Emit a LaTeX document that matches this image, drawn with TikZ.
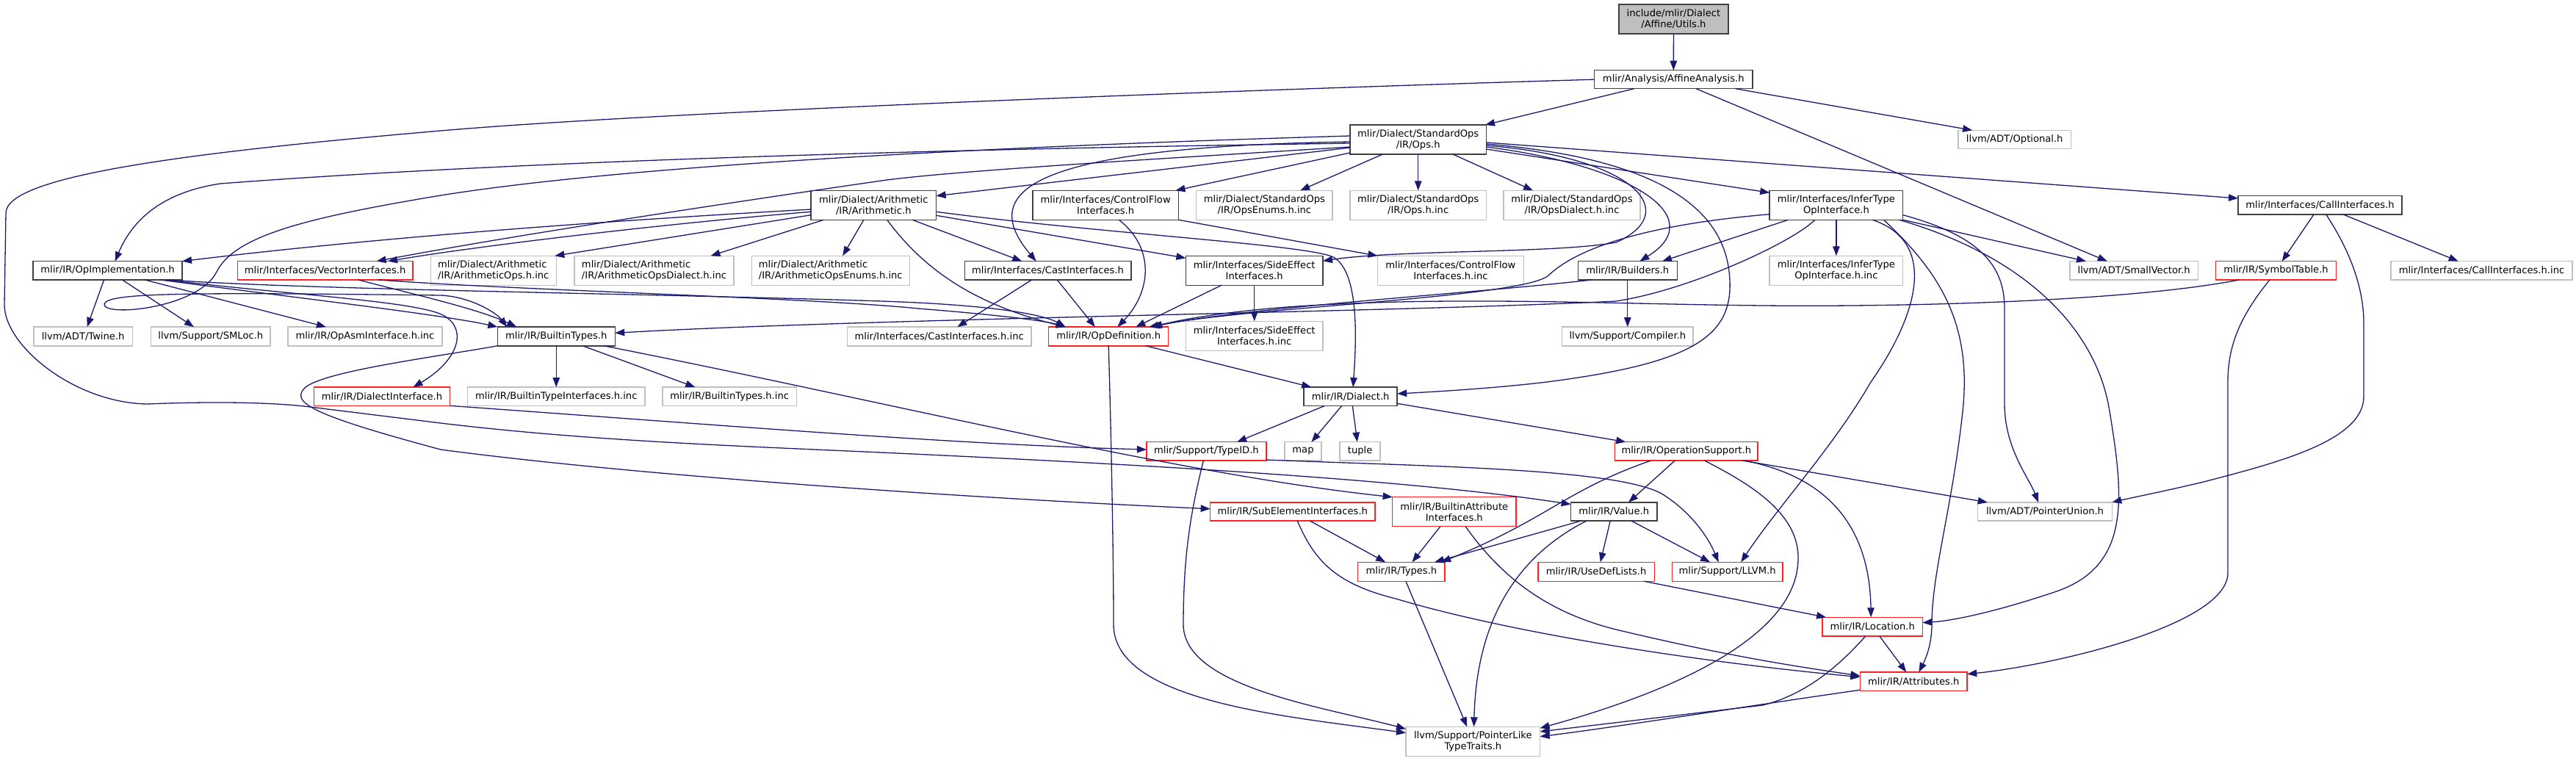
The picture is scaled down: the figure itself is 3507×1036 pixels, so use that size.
\documentclass[tikz,border=0pt]{standalone}
\usepackage{fontspec}
\setmainfont{DejaVu Sans}
\usetikzlibrary{arrows.meta}
\definecolor{edgeblue}{HTML}{191970}
\definecolor{nodered}{HTML}{FF2020}
\definecolor{nodegray}{HTML}{BFBFBF}
\definecolor{nodeblack}{HTML}{404040}
\newcommand{\nodefont}{\fontsize{13.1pt}{15pt}\selectfont}
\begin{document}
\begin{tikzpicture}[x=1pt,y=-1pt,
  nbox/.style={draw, line width=1.5pt, inner sep=0pt, outer sep=0pt, align=center, font=\nodefont, text=black},
  blk/.style={nbox, draw=nodeblack},
  trn/.style={nbox, draw=nodered},
  ext/.style={nbox, draw=nodegray},
  rootbox/.style={nbox, draw=nodeblack, fill=nodegray},
  sg/.style={minimum height=25.3pt},
  db/.style={minimum height=40pt},
  dep/.style={draw=edgeblue, line width=1.3pt, -{Triangle[length=13pt,width=9.5pt]}}
]
\useasboundingbox (0,0) rectangle (3507,1036);

% ---------- nodes ----------
\node[rootbox, minimum width=149.3pt, minimum height=40.3pt] (root) at (2278.4,25.9) {include/mlir/Dialect\\/Affine/Utils.h};
\node[blk, minimum width=215.8pt, minimum height=25pt] (ana) at (2278.3,108.2) {mlir/Analysis/AffineAnalysis.h};
\node[blk, db, minimum width=185.6pt] (ops) at (1930.7,190) {mlir/Dialect/StandardOps\\/IR/Ops.h};
\node[ext, minimum width=153.4pt, minimum height=25pt] (optional) at (2742.7,189.8) {llvm/ADT/Optional.h};

\node[blk, db, minimum width=170.6pt] (arith) at (1189.3,279.3) {mlir/Dialect/Arithmetic\\/IR/Arithmetic.h};
\node[blk, db, minimum width=198.6pt] (cfi) at (1505.2,279.3) {mlir/Interfaces/ControlFlow\\Interfaces.h};
\node[ext, db, minimum width=185.6pt] (opsenum) at (1721.4,279.3) {mlir/Dialect/StandardOps\\/IR/OpsEnums.h.inc};
\node[ext, db, minimum width=185.6pt] (opsinc) at (1930.7,279.3) {mlir/Dialect/StandardOps\\/IR/Ops.h.inc};
\node[ext, db, minimum width=185.6pt] (opsdia) at (2140,279.3) {mlir/Dialect/StandardOps\\/IR/OpsDialect.h.inc};
\node[blk, db, minimum width=181.4pt] (infer) at (2499.9,279.3) {mlir/Interfaces/InferType\\OpInterface.h};
\node[blk, sg, minimum width=223pt] (call) at (3158.5,279.3) {mlir/Interfaces/CallInterfaces.h};

\node[blk, sg, minimum width=202.8pt] (opimpl) at (146.6,368.3) {mlir/IR/OpImplementation.h};
\node[trn, sg, minimum width=238.4pt] (vector) at (442.6,368.3) {mlir/Interfaces/VectorInterfaces.h};
\node[ext, db, minimum width=171.1pt, align=left] (arops) at (671.8,368.3) {mlir/Dialect/Arithmetic\\/IR/ArithmeticOps.h.inc};
\node[ext, db, minimum width=217.3pt, align=left] (ardia) at (890.5,368.3) {mlir/Dialect/Arithmetic\\/IR/ArithmeticOpsDialect.h.inc};
\node[ext, db, minimum width=215.1pt, align=left] (arenum) at (1130.8,368.3) {mlir/Dialect/Arithmetic\\/IR/ArithmeticOpsEnums.h.inc};
\node[blk, sg, minimum width=226.5pt] (cast) at (1426.6,368.3) {mlir/Interfaces/CastInterfaces.h};
\node[blk, db, minimum width=186.6pt] (side) at (1707.7,368.3) {mlir/Interfaces/SideEffect\\Interfaces.h};
\node[ext, db, minimum width=199pt] (cfinc) at (1974.9,368.3) {mlir/Interfaces/ControlFlow\\Interfaces.h.inc};
\node[blk, sg, minimum width=135.1pt] (builders) at (2215.8,368.3) {mlir/IR/Builders.h};
\node[ext, db, minimum width=181.4pt] (inferinc) at (2499.9,368.3) {mlir/Interfaces/InferType\\OpInterface.h.inc};
\node[ext, sg, minimum width=174.5pt] (smallvec) at (2905.2,368.3) {llvm/ADT/SmallVector.h};
\node[trn, sg, minimum width=164.4pt] (symtab) at (3098.5,368.3) {mlir/IR/SymbolTable.h};
\node[ext, sg, minimum width=247pt] (callinc) at (3378.5,368.3) {mlir/Interfaces/CallInterfaces.h.inc};

\node[ext, minimum height=25.7pt, minimum width=134.3pt] (twine) at (113.1,457.9) {llvm/ADT/Twine.h};
\node[ext, minimum height=25.7pt, minimum width=162.6pt] (smloc) at (286.8,457.9) {llvm/Support/SMLoc.h};
\node[ext, minimum height=25.7pt, minimum width=209.6pt] (opasm) at (497,457.9) {mlir/IR/OpAsmInterface.h.inc};
\node[blk, minimum height=25.7pt, minimum width=160pt] (btypes) at (757.3,457.9) {mlir/IR/BuiltinTypes.h};
\node[ext, minimum height=25.7pt, minimum width=250.7pt] (castinc) at (1278.7,457.9) {mlir/Interfaces/CastInterfaces.h.inc};
\node[trn, minimum height=25.7pt, minimum width=163pt] (opdef) at (1509.2,457.9) {mlir/IR/OpDefinition.h};
\node[ext, db, minimum width=186.6pt] (sideinc) at (1707.7,457.3) {mlir/Interfaces/SideEffect\\Interfaces.h.inc};
\node[ext, minimum height=25.7pt, minimum width=178.7pt] (compiler) at (2215.8,457.9) {llvm/Support/Compiler.h};

\node[trn, sg, minimum width=185.2pt] (dialint) at (520,539.7) {mlir/IR/DialectInterface.h};
\node[ext, sg, minimum width=241.8pt] (btiinc) at (757.3,539.7) {mlir/IR/BuiltinTypeInterfaces.h.inc};
\node[ext, sg, minimum width=182.6pt] (btinc) at (993.2,539.7) {mlir/IR/BuiltinTypes.h.inc};
\node[blk, sg, minimum width=127pt] (dialect) at (1838.7,539.7) {mlir/IR/Dialect.h};

\node[trn, sg, minimum width=163pt] (typeid) at (1642.4,614.3) {mlir/Support/TypeID.h};
\node[ext, sg, minimum width=49.8pt] (map) at (1774,614.3) {map};
\node[ext, sg, minimum width=55.1pt] (tuple) at (1851.6,614.3) {tuple};
\node[trn, sg, minimum width=194.4pt] (opsup) at (2295.9,614.3) {mlir/IR/OperationSupport.h};

\node[trn, sg, minimum width=224.3pt] (subel) at (1759.8,696.5) {mlir/IR/SubElementInterfaces.h};
\node[trn, db, minimum width=168.3pt] (battr) at (1979.8,696.7) {mlir/IR/BuiltinAttribute\\Interfaces.h};
\node[blk, sg, minimum width=117.1pt] (value) at (2197.2,696.5) {mlir/IR/Value.h};
\node[ext, sg, minimum width=182.6pt] (punion) at (2784,696.5) {llvm/ADT/PointerUnion.h};

\node[trn, minimum height=26pt, minimum width=118.6pt] (types) at (1907.9,778.3) {mlir/IR/Types.h};
\node[trn, minimum height=26pt, minimum width=158.4pt] (usedef) at (2173.1,778.3) {mlir/IR/UseDefLists.h};
\node[trn, minimum height=26pt, minimum width=150.4pt] (llvm) at (2351.6,778.3) {mlir/Support/LLVM.h};

\node[trn, minimum height=25.7pt, minimum width=136.3pt] (location) at (2549.2,853.2) {mlir/IR/Location.h};
\node[trn, sg, minimum width=145.8pt] (attrs) at (2605.3,927.7) {mlir/IR/Attributes.h};
\node[ext, db, minimum width=182.6pt] (plike) at (2005.3,1009.3) {llvm/Support/PointerLike\\TypeTraits.h};

% ---------- edges ----------
\draw[dep] (root.south) -- (ana.north);
\draw[dep] ([xshift=-53.5pt]ana.south) -- ([xshift=91.3pt]ops.north);
\draw[dep] ([xshift=84.2pt]ana.south) -- ([xshift=-57.6pt]optional.north);
\draw[dep] ([xshift=30.7pt]ana.south) -- ([xshift=-36.4pt]smallvec.north);
\draw[dep] (ana.west) .. controls (1700,122) and (900,152) .. (600,178) .. controls (250,208) and (8,240) .. (8,290) -- (6,415) .. controls (6,470) and (100,548) .. (200,550) .. controls (300,546) and (380,548) .. (430,555) -- (600,576) .. controls (800,600) and (1000,607) .. (1200,616) .. controls (1500,630) and (1900,650) .. ([yshift=10pt]value.west);

% Ops.h
\draw[dep] (ops.south) -- (opsinc.north);
\draw[dep] ([xshift=47.3pt]ops.south) -- ([xshift=-53pt]opsdia.north);
\draw[dep] ([xshift=-48.4pt]ops.south) -- ([xshift=48.8pt]opsenum.north);
\draw[dep] ([yshift=2pt]ops.south west) -- ([xshift=-4pt]cfi.north east);
\draw[dep] ([yshift=-11pt]ops.west) -- ([yshift=12.6pt]arith.east);
\draw[dep] ([yshift=-3pt]ops.west) .. controls (1400,200) and (1330,260) .. ([xshift=-16pt]cast.north);
\draw[dep] ([yshift=-5pt]ops.west) .. controls (1500,200) and (800,212) .. (300,250) .. controls (220,262) and (180,300) .. ([xshift=10pt]opimpl.north);
\draw[dep] ([yshift=-10pt]ops.west) .. controls (1600,215) and (1300,232) .. (1200,246) .. controls (1000,275) and (700,320) .. ([xshift=70pt]vector.north);
\draw[dep] ([yshift=5pt]ops.west) .. controls (1500,195) and (900,218) .. (600,266) .. controls (420,296) and (320,320) .. (295,370) .. controls (270,420) and (140,432) .. (142,414) .. controls (145,398) and (260,398) .. (600,402) .. controls (640,404) and (675,425) .. ([xshift=-67pt]btypes.north);
\draw[dep] ([yshift=-6pt]ops.east) .. controls (2250,215) and (2352,280) .. (2355,383) .. controls (2358,460) and (2300,495) .. (2106,520) .. controls (2040,528) and (1960,533) .. ([yshift=3.7pt]dialect.east);
\draw[dep] ([yshift=-10pt]ops.east) .. controls (2220,225) and (2330,295) .. ([xshift=16.6pt]builders.north);
\draw[dep] ([yshift=-8pt]ops.east) .. controls (2230,215) and (2290,290) .. (2200,330) .. controls (2120,345) and (1900,340) .. ([yshift=13pt]side.east);
\draw[dep] ([yshift=-4pt]ops.east) -- ([yshift=9.3pt]call.west);
\draw[dep] ([yshift=-13pt]ops.east) -- ([yshift=-3pt]infer.north west);

% Arithmetic.h
\draw[dep] ([yshift=-5.7pt]arith.west) .. controls (800,302) and (500,325) .. (opimpl.north east);
\draw[dep] ([yshift=-9pt]arith.west) .. controls (900,305) and (650,335) .. ([xshift=85.4pt]vector.north);
\draw[dep] ([yshift=-13.4pt]arith.west) -- ([xshift=-2pt]arops.north east);
\draw[dep] ([xshift=-68pt]arith.south) -- ([xshift=77pt]ardia.north);
\draw[dep] ([xshift=-13.4pt]arith.south) -- ([xshift=16.4pt]arenum.north);
\draw[dep] ([xshift=52.8pt]arith.south) -- ([xshift=-35.3pt]cast.north);
\draw[dep] ([xshift=18.4pt]arith.south) .. controls (1260,370) and (1330,415) .. ([xshift=-58.6pt]opdef.north);
\draw[dep] ([yshift=-14pt]arith.east) -- ([yshift=-3pt]side.north west);
\draw[dep] ([yshift=-9pt]arith.east) .. controls (1500,318) and (1780,333) .. (1815,350) .. controls (1852,370) and (1846,470) .. ([xshift=3.4pt]dialect.north);

% interfaces
\draw[dep] ([xshift=18.2pt]cfi.south) .. controls (1575,340) and (1565,400) .. ([xshift=12.2pt]opdef.north);
\draw[dep] (cfi.south east) -- (cfinc.north west);
\draw[dep] ([xshift=-21.9pt]cast.south) -- ([xshift=24.6pt]castinc.north);
\draw[dep] ([xshift=12.6pt]cast.south) -- ([xshift=-18.4pt]opdef.north);
\draw[dep] ([xshift=-44.7pt]side.south) -- ([xshift=37.1pt]opdef.north);
\draw[dep] (side.south) -- (sideinc.north);
\draw[dep] ([xshift=-48.4pt]builders.south) .. controls (2000,400) and (1700,418) .. ([xshift=58.2pt]opdef.north);
\draw[dep] (builders.south) -- (compiler.north);

% InferTypeOpInterface.h
\draw[dep] ([yshift=-12.4pt]infer.west) .. controls (2250,305) and (2150,335) .. (2108,375) .. controls (2075,405) and (1700,418) .. ([xshift=55pt]opdef.north);
\draw[dep] ([xshift=-65.5pt]infer.south) -- ([xshift=47.2pt]builders.north);
\draw[dep] ([xshift=-29pt]infer.south) .. controls (2440,330) and (2300,395) .. (2200,410) .. controls (1900,425) and (1200,433) .. ([yshift=4.6pt]btypes.east);
\draw[dep] (infer.south) -- (inferinc.north);
\draw[dep] (infer.south east) -- ([xshift=-65.2pt]smallvec.north);
\draw[dep] ([yshift=-13.4pt]infer.east) .. controls (2700,322) and (2729,365) .. (2729,420) -- (2729,550) .. controls (2729,610) and (2762,650) .. ([xshift=-9pt]punion.north);
\draw[dep] ([xshift=-5pt]infer.south east) .. controls (2760,350) and (2855,450) .. (2872,560) .. controls (2892,680) and (2900,770) .. (2800,805) .. controls (2720,832) and (2660,845) .. ([yshift=5.5pt]location.east);
\draw[dep] ([xshift=64.6pt]infer.south) .. controls (2640,370) and (2685,440) .. (2672,560) .. controls (2658,690) and (2630,780) .. (2630,850) .. controls (2630,880) and (2620,900) .. ([xshift=7pt]attrs.north);
\draw[dep] ([xshift=49.3pt]infer.south) .. controls (2640,330) and (2610,430) .. (2547,520) .. controls (2495,610) and (2420,690) .. ([xshift=18.6pt]llvm.north);

% CallInterfaces.h and SymbolTable.h
\draw[dep] ([xshift=-8.5pt]call.south) -- ([xshift=8.2pt]symtab.north);
\draw[dep] ([xshift=31.5pt]call.south) -- ([xshift=-31.8pt]callinc.north);
\draw[dep] ([xshift=8.2pt]call.south) .. controls (3205,350) and (3218,400) .. (3218,440) -- (3218,540) .. controls (3218,600) and (3100,630) .. (3000,656) .. controls (2950,668) and (2900,678) .. (punion.north east);
\draw[dep] ([xshift=-50pt]symtab.south) .. controls (2900,410) and (2600,418) .. (2400,416) .. controls (2200,414) and (2000,404) .. (1800,415) .. controls (1700,420) and (1620,432) .. ([xshift=60pt]opdef.north);
\draw[dep] ([xshift=-8.5pt]symtab.south) .. controls (3050,430) and (3033,470) .. (3033,520) -- (3033,780) .. controls (3033,850) and (2800,905) .. ([yshift=10pt]attrs.east);

% OpImplementation.h and VectorInterfaces.h
\draw[dep] ([xshift=-5pt]opimpl.south) -- ([xshift=5.5pt]twine.north);
\draw[dep] ([xshift=19.9pt]opimpl.south) -- ([xshift=-22.8pt]smloc.north);
\draw[dep] ([xshift=50.5pt]opimpl.south) -- ([xshift=-53.1pt]opasm.north);
\draw[dep] ([xshift=71.5pt]opimpl.south) .. controls (400,405) and (600,428) .. (btypes.north west);
\draw[dep] ([xshift=79.2pt]opimpl.south) .. controls (400,402) and (570,410) .. (605,430) .. controls (638,450) and (622,492) .. ([xshift=42.5pt]dialint.north);
\draw[dep] ([xshift=83pt]opimpl.south) .. controls (400,394) and (900,400) .. (1200,410) .. controls (1350,415) and (1420,428) .. ([xshift=-58.6pt]opdef.north);
\draw[dep] ([xshift=45.3pt]vector.south) .. controls (560,400) and (650,420) .. ([xshift=-54pt]btypes.north);
\draw[dep] ([xshift=72pt]vector.south) .. controls (700,395) and (1100,405) .. (1250,420) .. controls (1350,428) and (1420,436) .. ([xshift=-58.6pt]opdef.north);

% BuiltinTypes.h
\draw[dep] (btypes.south) -- (btiinc.north);
\draw[dep] ([xshift=35.9pt]btypes.south) -- ([xshift=-46.9pt]btinc.north);
\draw[dep] ([xshift=64.6pt]btypes.south) .. controls (1200,545) and (1600,645) .. (battr.north west);
\draw[dep] (btypes.south west) .. controls (600,485) and (440,505) .. (415,528) .. controls (395,548) and (425,565) .. (600,612) .. controls (900,652) and (1400,682) .. ([yshift=3.8pt]subel.west);

% DialectInterface.h, OpDefinition.h, Dialect.h
\draw[dep] (dialint.south east) .. controls (1000,580) and (1300,605) .. ([yshift=2.3pt]typeid.west);
\draw[dep] ([xshift=50.5pt]opdef.south) -- ([xshift=10pt]dialect.north west);
\draw[dep] (opdef.south) .. controls (1513,600) and (1516,760) .. (1516,850) .. controls (1516,955) and (1750,975) .. ([yshift=11.6pt]plike.west);
\draw[dep] ([xshift=-35pt]dialect.south) -- ([xshift=41.7pt]typeid.north);
\draw[dep] ([xshift=-12pt]dialect.south) -- ([xshift=11.5pt]map.north);
\draw[dep] ([xshift=2.6pt]dialect.south) -- ([xshift=-3.8pt]tuple.north);
\draw[dep] ([yshift=-9.6pt]dialect.east) -- ([xshift=-82.6pt]opsup.north);

% TypeID.h
\draw[dep] ([yshift=-11.7pt]typeid.east) .. controls (1950,635) and (2200,638) .. (2262,672) .. controls (2300,695) and (2325,730) .. ([xshift=-12pt]llvm.north);
\draw[dep] ([xshift=-4pt]typeid.south) .. controls (1620,700) and (1611,760) .. (1611,850) .. controls (1611,935) and (1800,962) .. ([yshift=-3pt]plike.north west);

% SubElementInterfaces.h, BuiltinAttributeInterfaces.h
\draw[dep] ([xshift=23.7pt]subel.south) -- ([xshift=-21.8pt]types.north);
\draw[dep] ([xshift=6.5pt]subel.south) .. controls (1790,765) and (1820,795) .. (1900,815) .. controls (2050,860) and (2300,900) .. ([yshift=6pt]attrs.west);
\draw[dep] ([xshift=-19pt]battr.south) -- ([xshift=14.6pt]types.north);
\draw[dep] ([xshift=15.4pt]battr.south) .. controls (2040,780) and (2100,832) .. (2200,857) .. controls (2350,893) and (2450,908) .. ([yshift=7.7pt]attrs.west);

% Value.h
\draw[dep] ([xshift=-45pt]value.south) -- ([xshift=45pt]types.north);
\draw[dep] ([xshift=-37.5pt]value.south) .. controls (2060,760) and (2010,850) .. ([xshift=1.3pt]plike.north);
\draw[dep] ([xshift=-5pt]value.south) -- ([xshift=5.7pt]usedef.north);
\draw[dep] ([xshift=23.8pt]value.south) -- ([xshift=-23.5pt]llvm.north);

% OperationSupport.h
\draw[dep] ([xshift=-48.2pt]opsup.south) .. controls (2130,668) and (2110,705) .. ([xshift=-5pt]types.north east);
\draw[dep] ([xshift=-15.6pt]opsup.south) -- ([xshift=19.9pt]value.north);
\draw[dep] ([xshift=76.2pt]opsup.south) -- ([xshift=13pt]punion.north west);
\draw[dep] ([xshift=78pt]opsup.south) .. controls (2470,645) and (2545,700) .. ([xshift=-2pt]location.north);
\draw[dep] ([xshift=24.5pt]opsup.south) .. controls (2385,660) and (2450,700) .. (2448,762) .. controls (2446,860) and (2300,935) .. ([yshift=-2pt]plike.north east);

% lower part
\draw[dep] ([xshift=65pt]usedef.south) -- ([xshift=5pt]location.north west);
\draw[dep] ([xshift=9.6pt]location.south) -- ([xshift=-10.1pt]attrs.north);
\draw[dep] ([xshift=-9.5pt]location.south) .. controls (2505,905) and (2460,945) .. (2400,960) -- ([yshift=13.3pt]plike.east);
\draw[dep] ([yshift=-11.6pt]attrs.west) .. controls (2400,958) and (2200,990) .. ([yshift=6.6pt]plike.east);
\draw[dep] ([xshift=6pt]types.south) -- ([xshift=-8.2pt]plike.north);
\end{tikzpicture}
\end{document}
